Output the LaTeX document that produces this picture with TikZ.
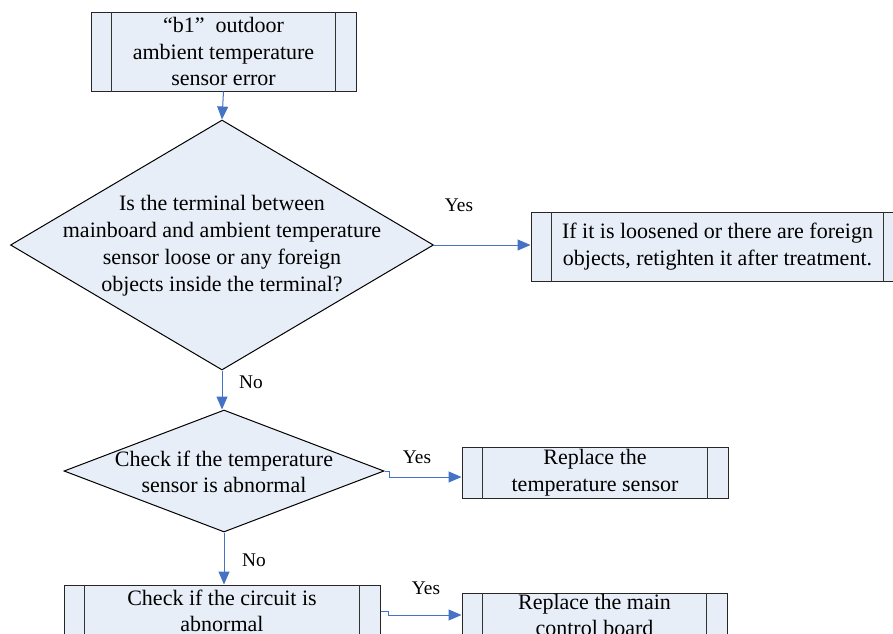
\documentclass[tikz,border=0pt]{standalone}
\usepackage{fontspec}
\setmainfont{Liberation Serif}
\usetikzlibrary{shapes.geometric,arrows.meta,calc}
\definecolor{boxfill}{RGB}{232,238,247}
\definecolor{conncol}{RGB}{68,114,196}
\newcommand\mysidelines[1]{%
  \draw[line width=0.6pt,black!80] ($(#1.north west)+(21,0)$) -- ($(#1.south west)+(21,0)$);
  \draw[line width=0.6pt,black!80] ($(#1.north east)+(-21,0)$) -- ($(#1.south east)+(-21,0)$);}
\begin{document}
\begin{tikzpicture}[x=0.75pt,y=-0.75pt,
  proc/.style={draw=black!85, line width=0.75pt, fill=boxfill, inner sep=0pt, align=center,
    font=\fontsize{16.5pt}{20pt}\selectfont},
  dia/.style={diamond, draw=black, fill=boxfill, inner sep=0pt, line width=0.75pt},
  txt/.style={align=center, inner sep=0pt, font=\fontsize{16.5pt}{20.25pt}\selectfont},
  lbl/.style={inner sep=0pt, font=\fontsize{14.5pt}{17pt}\selectfont},
  conn/.style={draw=conncol, line width=0.75pt, -{Triangle[length=9.75pt,width=8.25pt,fill=conncol]}}]
\useasboundingbox (0,0) rectangle (893,633);
\clip (0,0) rectangle (893,633);

% boxes
\node[proc, minimum width=198.75pt, minimum height=59.25pt] (b1) at (223.5,51.5)
  {“b1”\ \ outdoor\\ambient temperature\\sensor error};
\node[proc, minimum width=279.75pt, minimum height=51.75pt] (b2) at (717.5,246.5)
  {If it is loosened or there are foreign\\objects, retighten it after treatment.};
\node[proc, minimum width=199.5pt, minimum height=38.25pt] (b3) at (595,472.5)
  {Replace the\\temperature sensor};
\node[proc, minimum width=237pt, minimum height=39pt] (b4) at (222,611)
  {Check if the circuit is\\abnormal};
\node[proc, minimum width=198.75pt, minimum height=33pt] (b5) at (594.5,615)
  {Replace the main\\control board};
\mysidelines{b1}
\mysidelines{b2}
\mysidelines{b3}
\mysidelines{b4}
\mysidelines{b5}

% diamonds
\node[dia, minimum width=317.25pt, minimum height=187.5pt] (d1) at (222,245) {};
\node[txt] (t1) at (222,246) {Is the terminal between\\mainboard and ambient temperature\\sensor loose or any foreign\\objects inside the terminal?};
\node[dia, minimum width=240pt, minimum height=91.5pt] (d2) at (224,471) {};
\node[txt, font=\fontsize{16.5pt}{19.5pt}\selectfont] (t2) at (224,472) {Check if the temperature\\sensor is abnormal};

% connectors
\draw[conn] (b1.south) -- (d1.north);
\draw[conn] (d1.east) -- (d1.east -| b2.west);
\draw[conn] (d1.south) -- (d1.south |- d2.north);
\draw[conn] (d2.east) -- ++(5,0) coordinate (j1) -- ($(j1)+(0,6)$) coordinate (j2) -- (j2 -| b3.west);
\draw[conn] (d2.south) -- (d2.south |- b4.north);
\draw[conn] (b4.east) -- ++(8,0) coordinate (j3) -- ($(j3)+(0,4)$) coordinate (j4) -- (j4 -| b5.west);

% labels
\node[lbl] (y1) at (459,205) {Yes};
\node[lbl] (n1) at (251,382) {No};
\node[lbl] (y2) at (417,457) {Yes};
\node[lbl] (n2) at (254,560) {No};
\node[lbl] (y3) at (426,588) {Yes};
\end{tikzpicture}
\end{document}
